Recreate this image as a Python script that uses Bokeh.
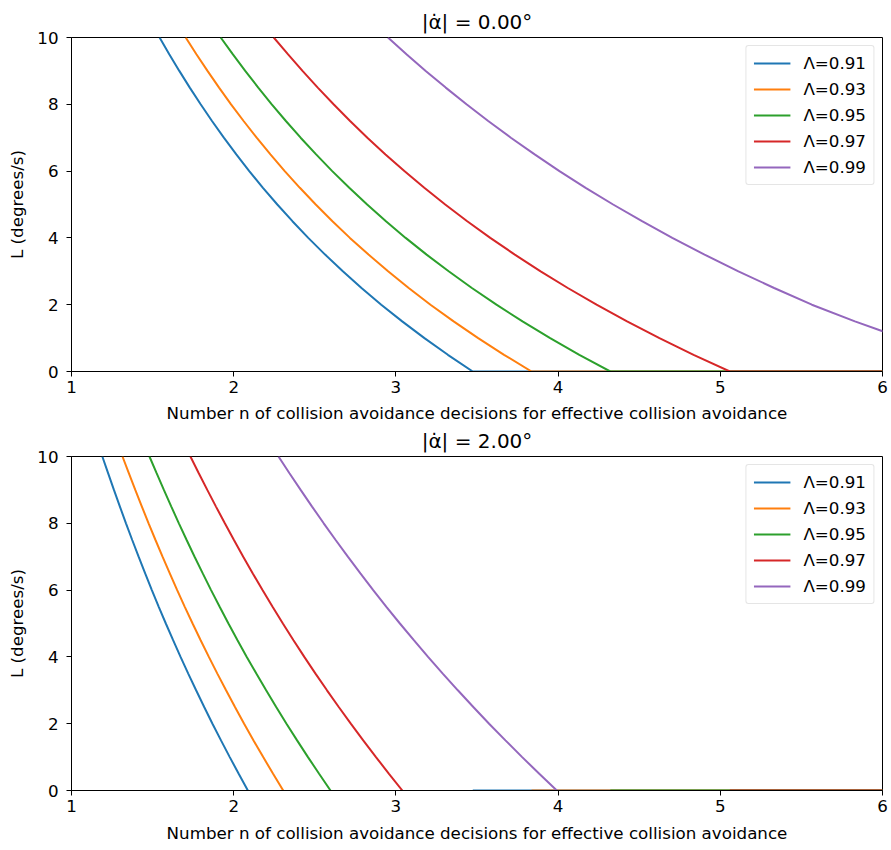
import numpy as np
from bokeh.plotting import figure
from bokeh.layouts import column
from bokeh.models import Range1d, FixedTicker
from bokeh.embed import file_html
from bokeh.resources import INLINE

# ---------------- data ----------------
lambdas = [0.91, 0.93, 0.95, 0.97, 0.99]
colors = ["#1f77b4", "#ff7f0e", "#2ca02c", "#d62728", "#9467bd"]
# L (degrees/s) levels at which each curve's n position was read
L_levels = [10, 9.5, 9, 8.5, 8, 7.5, 7, 6.5, 6, 5.5, 5, 4.5, 4, 3.5, 3, 2.5, 2, 1.5, 1, 0.5, 0]
n_end = 6.0

# |alpha_dot| = 0.00 deg : n where each curve passes each L level
n_top_091 = [1.5430, 1.6027, 1.6647, 1.7292, 1.7962, 1.8662, 1.9392, 2.0160, 2.0959, 2.1803, 2.2689,
             2.3621, 2.4596, 2.5635, 2.6728, 2.7879, 2.9096, 3.0388, 3.1759, 3.3204, 3.4739]
n_top_093 = [1.7040, 1.7700, 1.8384, 1.9097, 1.9836, 2.0610, 2.1416, 2.2264, 2.3146, 2.4079, 2.5057,
             2.6087, 2.7163, 2.8311, 2.9518, 3.0789, 3.2132, 3.3559, 3.5073, 3.6669, 3.8365]
n_top_095 = [1.9196, 1.9940, 2.0710, 2.1513, 2.2346, 2.3217, 2.4126, 2.5081, 2.6075, 2.7125, 2.8227,
             2.9387, 3.0600, 3.1893, 3.3253, 3.4685, 3.6198, 3.7806, 3.9511, 4.1309, 4.3219]
n_top_097 = [2.2469, 2.3340, 2.4242, 2.5182, 2.6157, 2.7176, 2.8240, 2.9358, 3.0521, 3.1751, 3.3040,
             3.4398, 3.5818, 3.7331, 3.8923, 4.0599, 4.2370, 4.4252, 4.6249, 4.8353, 5.0589]
n_top_099 = [2.9509, 3.0652, 3.1837, 3.3071, 3.4352, 3.5691, 3.7088, 3.8556, 4.0083, 4.1699, 4.3392,
             4.5175, 4.7040, 4.9028, 5.1117, 5.3319, 5.5645, 5.8300, 6.1200, 6.4200, 6.7000]

# |alpha_dot| = 2.00 deg
n_bot_091 = [1.1901, 1.2256, 1.2616, 1.2984, 1.3359, 1.3744, 1.4137, 1.4542, 1.4954, 1.5379, 1.5816,
             1.6264, 1.6723, 1.7197, 1.7683, 1.8181, 1.8691, 1.9217, 1.9757, 2.0308, 2.0873]
n_bot_093 = [1.3143, 1.3534, 1.3932, 1.4339, 1.4753, 1.5178, 1.5612, 1.6060, 1.6515, 1.6984, 1.7466,
             1.7962, 1.8468, 1.8992, 1.9529, 2.0079, 2.0642, 2.1223, 2.1819, 2.2428, 2.3052]
n_bot_095 = [1.4806, 1.5247, 1.5695, 1.6153, 1.6620, 1.7099, 1.7588, 1.8092, 1.8605, 1.9134, 1.9676,
             2.0234, 2.0805, 2.1395, 2.2000, 2.2619, 2.3254, 2.3908, 2.4579, 2.5265, 2.5969]
n_bot_097 = [1.7331, 1.7847, 1.8371, 1.8907, 1.9454, 2.0015, 2.0587, 2.1177, 2.1777, 2.2396, 2.3032,
             2.3685, 2.4353, 2.5043, 2.5751, 2.6477, 2.7219, 2.7985, 2.8771, 2.9574, 3.0397]
n_bot_099 = [2.2761, 2.3438, 2.4127, 2.4831, 2.5549, 2.6285, 2.7037, 2.7812, 2.8600, 2.9413, 3.0247,
             3.1106, 3.1982, 3.2889, 3.3819, 3.4772, 3.5746, 3.6753, 3.7785, 3.8839, 3.9920]

n_top = [n_top_091, n_top_093, n_top_095, n_top_097, n_top_099]
n_bot = [n_bot_091, n_bot_093, n_bot_095, n_bot_097, n_bot_099]

titles = ["|\u03b1\u0307| = 0.00\u00b0", "|\u03b1\u0307| = 2.00\u00b0"]
x_label = "Number n of collision avoidance decisions for effective collision avoidance"
y_label = "L (degrees/s)"
x_ticks = [1, 2, 3, 4, 5, 6]
y_ticks = [0, 2, 4, 6, 8, 10]

FONT = "DejaVu Sans"
FS = "16.7px"


def make_fig(title, series, top_series, is_bottom, border_top, border_bottom, xlabel_standoff):
    p = figure(frame_width=811, frame_height=334,
               min_border_left=71, min_border_right=8,
               min_border_top=border_top, min_border_bottom=border_bottom,
               x_range=Range1d(1, 6), y_range=Range1d(0, 10),
               output_backend="svg", toolbar_location=None)
    p.title.text = title
    p.title.align = "center"
    p.title.text_font = FONT
    p.title.text_font_size = "20px"
    p.title.text_font_style = "normal"
    p.title.text_color = "black"
    p.title.standoff = 8

    p.xgrid.visible = False
    p.ygrid.visible = False
    p.outline_line_color = "black"
    p.outline_line_alpha = 1.0
    p.outline_line_width = 1
    p.border_fill_alpha = 0.0

    for ax, ticks in ((p.xaxis[0], x_ticks), (p.yaxis[0], y_ticks)):
        ax.ticker = FixedTicker(ticks=ticks)
        ax.major_label_text_font = FONT
        ax.major_label_text_font_size = FS
        ax.major_label_text_color = "black"
        ax.axis_label_text_font = FONT
        ax.axis_label_text_font_size = FS
        ax.axis_label_text_font_style = "normal"
        ax.axis_label_text_color = "black"
        ax.axis_line_color = "black"
        ax.major_tick_line_color = "black"
        ax.major_tick_out = 5
        ax.major_tick_in = 0
        ax.minor_tick_line_color = None
    p.xaxis.axis_label = x_label
    p.yaxis.axis_label = y_label
    p.xaxis.major_label_standoff = 4
    p.xaxis.axis_label_standoff = xlabel_standoff
    p.yaxis.major_label_standoff = 8
    p.yaxis.axis_label_standoff = 7

    for i, lam in enumerate(lambdas):
        xs = list(series[i])
        ys = list(L_levels)
        z0 = top_series[i][-1]
        if z0 < n_end:
            if is_bottom:
                xs += [np.nan, z0, n_end]
                ys += [np.nan, 0, 0]
            else:
                xs += [n_end]
                ys += [0]
        p.line(np.array(xs, dtype=float), np.array(ys, dtype=float),
               line_color=colors[i], line_width=2,
               legend_label=f"\u039b={lam:.2f}")

    lg = p.legend[0]
    lg.location = "top_right"
    lg.margin = 8
    lg.padding = 7
    lg.spacing = 6
    lg.glyph_width = 37
    lg.glyph_height = 20
    lg.label_height = 20
    lg.label_standoff = 13
    lg.label_text_font = FONT
    lg.label_text_font_size = FS
    lg.label_text_color = "black"
    lg.border_line_color = "#cccccc"
    lg.border_line_width = 1
    lg.background_fill_alpha = 0.8
    if "border_radius" in lg.properties():
        lg.border_radius = 3
    return p


p1 = make_fig(titles[0], n_top, n_top, False, 37, 60, 7)
p2 = make_fig(titles[1], n_bot, n_top, True, 39, 56, 8)
p2.margin = (-14, 0, 0, 0)

layout = column(p1, p2)
open("out.html", "w").write(file_html(layout, INLINE))
